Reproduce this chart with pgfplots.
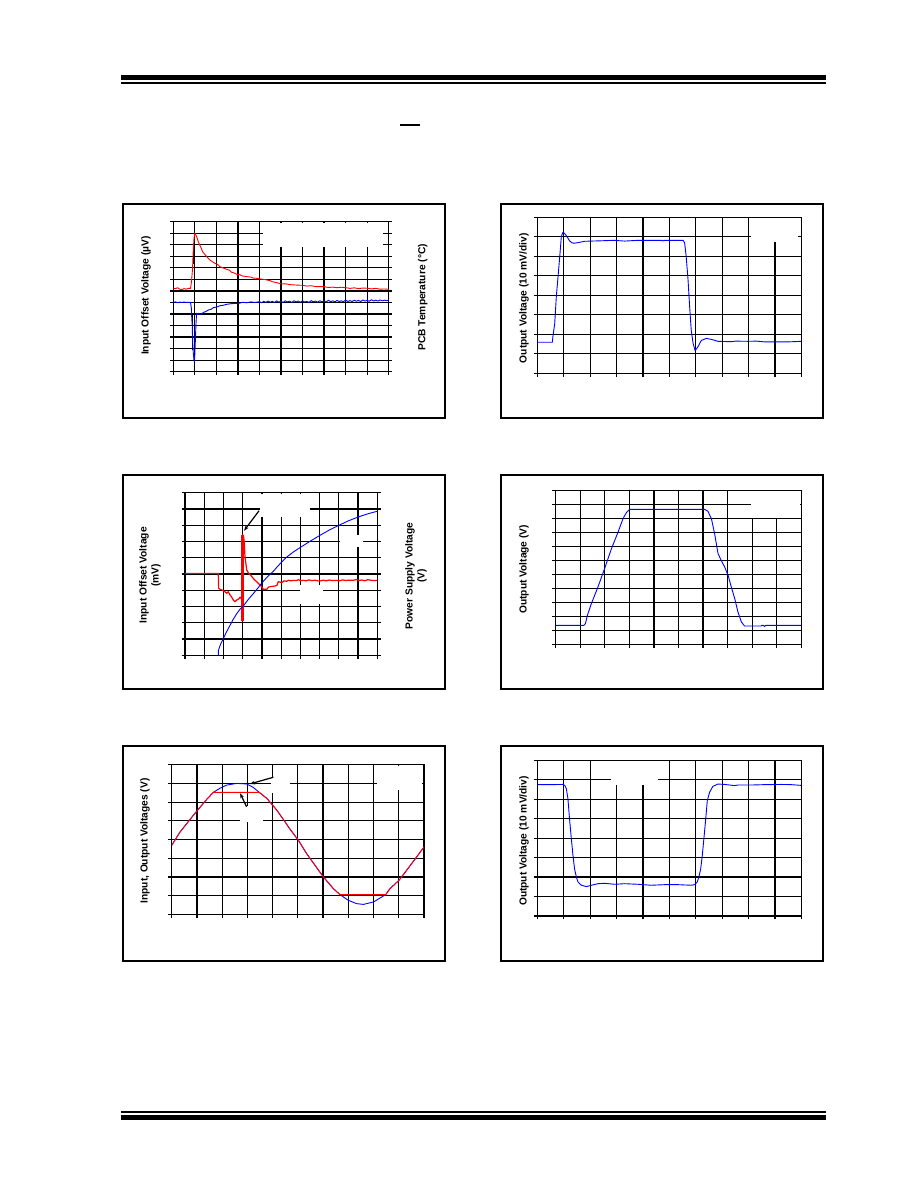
\documentclass[border=0pt]{standalone}
\usepackage{pgfplots}
\pgfplotsset{compat=1.18}
\usepackage{fontspec}
\setmainfont{Liberation Sans}
\usetikzlibrary{arrows.meta}
\pgfplotsset{
  dsgrid/.style={
    scale only axis,
    xmin=0,xmax=10,ymin=0,
    xtick={0,1,...,10},
    xticklabels={},yticklabels={},
    grid=major,
    major grid style={black,line width=1.2pt},
    axis line style={black,line width=1.2pt},
    tick style={black,line width=1.2pt},
    tick align=outside,
    major tick length=3.5pt,
    xtick pos=bottom,
    ytick pos=left,
  },
  tr/.style={line width=0.9pt,line join=round},
}
\newcommand{\lab}{\fontsize{10.2}{12}\selectfont\bfseries}
\tikzset{arr/.style={black,line width=1.2pt,-{Stealth[length=5pt,width=3.6pt]}}}
\begin{document}
\begin{tikzpicture}
\path[use as bounding box,fill=white] (0pt,0pt) rectangle (918pt,-1188pt);
% header / footer rules
\fill[black] (121pt,-75pt) rectangle (826pt,-80pt);
\fill[black] (121pt,-82pt) rectangle (826pt,-84pt);
\fill[black] (400pt,-124pt) rectangle (420pt,-126pt);
\fill[black] (121pt,-1111pt) rectangle (826pt,-1113pt);
\fill[black] (121pt,-1115pt) rectangle (826pt,-1120pt);
% frames
\begin{scope}[line width=2pt]
\draw (123pt,-204pt) rectangle (445pt,-418pt);
\draw (501pt,-204pt) rectangle (823pt,-418pt);
\draw (123pt,-475pt) rectangle (445pt,-689pt);
\draw (501pt,-475pt) rectangle (823pt,-689pt);
\draw (123pt,-746pt) rectangle (445pt,-961pt);
\draw (501pt,-746pt) rectangle (823pt,-961pt);
\end{scope}

% ---------------- Chart 1 ----------------
\begin{axis}[dsgrid, at={(173.3pt,-221.7pt)}, anchor=north west,
  width=215.4pt, height=150pt, ymax=13, ytick={0,1,...,13}, ytick pos=both]
\fill[white] (axis cs:4.18,10.83) rectangle (axis cs:9.75,12.91);
\addplot[black,line width=1pt] coordinates {(0.91,1.9) (0.91,4.9)};
\addplot[black,line width=1pt] coordinates {(0.92,9.3) (0.92,10.7)};
\addplot[red,tr] coordinates {
(0,7.25) (0.1,7.2) (0.2,7.28) (0.3,7.15) (0.4,7.12) (0.5,7.2) (0.6,7.15) (0.7,7.22) (0.8,7.22)
(0.83,7.6) (0.85,7.95) (0.88,8.6) (0.90,9.25) (0.93,10.69) (0.96,11.5) (0.99,11.99) (1.03,11.9)
(1.08,11.71) (1.16,11.27) (1.24,10.92) (1.30,10.7) (1.36,10.40) (1.45,10.2) (1.55,9.97)
(1.70,9.68) (1.80,9.55) (1.93,9.39) (2.05,9.3) (2.17,9.10) (2.3,9.0) (2.48,8.87) (2.6,8.8)
(2.7,8.62) (2.8,8.58) (2.94,8.44) (3.1,8.4) (3.2,8.3) (3.41,8.24) (3.6,8.2) (3.7,8.12)
(3.87,8.09) (4.0,8.05) (4.2,8.0) (4.35,7.95) (4.49,7.89) (4.6,7.8) (4.8,7.72) (5.02,7.6)
(5.2,7.62) (5.4,7.55) (5.6,7.52) (5.8,7.5) (6.01,7.49) (6.2,7.42) (6.4,7.45) (6.6,7.38)
(6.8,7.37) (7.0,7.37) (7.2,7.3) (7.4,7.33) (7.6,7.28) (7.8,7.32) (8.02,7.28) (8.2,7.22)
(8.4,7.27) (8.6,7.2) (8.8,7.25) (9.01,7.23) (9.2,7.18) (9.4,7.22) (9.6,7.15) (9.8,7.17) (10,7.14)};
\addplot[blue,tr] coordinates {
(0,6.01) (0.1,6.05) (0.2,5.98) (0.3,6.03) (0.4,6.0) (0.5,6.04) (0.6,6.0) (0.7,6.02) (0.8,6.0)
(0.84,5.5) (0.85,4.91) (0.88,3.9) (0.9,2.5) (0.93,1.59) (0.96,1.0) (0.98,0.87) (1.0,1.5)
(1.01,2.02) (1.04,3.5) (1.05,4.05) (1.08,5.06) (1.12,4.97) (1.16,5.06) (1.25,5.0) (1.32,4.97)
(1.39,5.14) (1.5,5.2) (1.63,5.35) (1.75,5.4) (1.86,5.55) (2.0,5.6) (2.17,5.72) (2.3,5.75)
(2.48,5.84) (2.7,5.9) (2.94,5.92) (3.1,5.95) (3.2,6.02) (3.41,5.98) (3.6,6.05) (3.8,6.0)
(4.0,6.07) (4.1,5.98) (4.2,6.1) (4.3,6.0) (4.4,6.12) (4.5,6.02) (4.6,6.1) (4.7,6.0) (4.8,6.14)
(4.9,6.03) (5.0,6.1) (5.1,6.0) (5.2,6.14) (5.3,6.04) (5.4,6.12) (5.5,6.0) (5.6,6.15) (5.7,6.05)
(5.8,6.12) (5.9,6.02) (6.0,6.14) (6.1,6.04) (6.2,6.1) (6.3,6.0) (6.4,6.16) (6.5,6.05) (6.6,6.12)
(6.7,6.03) (6.8,6.15) (6.9,6.06) (7.0,6.12) (7.1,6.04) (7.2,6.2) (7.3,6.06) (7.4,6.14) (7.5,6.05)
(7.6,6.18) (7.7,6.08) (7.8,6.14) (7.9,6.06) (8.0,6.22) (8.1,6.08) (8.2,6.16) (8.3,6.08) (8.4,6.2)
(8.5,6.1) (8.6,6.18) (8.7,6.08) (8.8,6.22) (8.9,6.12) (9.0,6.18) (9.1,6.1) (9.2,6.24) (9.3,6.12)
(9.4,6.2) (9.5,6.12) (9.6,6.22) (9.7,6.14) (9.8,6.2) (9.9,6.16) (10,6.21)};
\end{axis}

% ---------------- Chart 2 ----------------
\begin{axis}[dsgrid, at={(537.3pt,-217.3pt)}, anchor=north west,
  width=264pt, height=156pt, ymax=8, ytick={0,1,...,8}]
\fill[white] (axis cs:8.08,6.75) rectangle (axis cs:9.88,7.95);
\addplot[blue,tr] coordinates {
(0,1.59) (0.57,1.59) (0.59,1.88) (0.66,2.56) (0.72,3.93) (0.78,4.87) (0.85,5.98) (0.91,7.01)
(0.97,7.23) (1.03,7.18) (1.10,7.06) (1.22,6.80) (1.30,6.70) (1.39,6.67) (1.54,6.70) (1.79,6.77)
(2.30,6.79) (2.93,6.82) (3.1,6.80) (3.31,6.78) (3.81,6.82) (4.70,6.82) (4.75,6.79) (4.8,6.82)
(5.52,6.82) (5.58,6.70) (5.64,5.98) (5.71,4.79) (5.77,3.42) (5.83,2.22) (5.90,1.54) (5.98,1.16)
(6.09,1.37) (6.21,1.68) (6.40,1.79) (6.59,1.74) (6.84,1.64) (7.35,1.62) (7.5,1.65) (7.98,1.64)
(8.3,1.65) (8.61,1.61) (9.5,1.61) (10,1.64)};
\end{axis}

% ---------------- Chart 3 ----------------
\begin{axis}[dsgrid, at={(185pt,-492.7pt)}, anchor=north west,
  width=192.3pt, height=162.6pt, ymax=10, ytick={0,1,...,10}, ytick pos=both]
\fill[white] (axis cs:3.9,8.5) rectangle (axis cs:6.5,9.94);
\fill[white] (axis cs:8.06,6.66) rectangle (axis cs:9.27,7.38);
\fill[white] (axis cs:5.98,3.18) rectangle (axis cs:7.19,4.3);
\addplot[red,line width=1.2pt,line join=round] coordinates {
(0,5.04) (0.5,5.04) (1.0,5.04) (1.5,5.04) (1.73,5.04) (1.75,4.12) (1.82,4.06) (1.95,4.0)
(2.08,3.91) (2.17,3.81) (2.25,3.91) (2.34,3.71) (2.42,3.6) (2.51,3.40) (2.60,3.30) (2.69,3.40)
(2.78,3.45) (2.86,3.57) (2.92,3.5) (2.95,3.65) (2.97,3.4) (2.98,2.13) (3.0,7.40) (3.04,7.35)
(3.07,7.09) (3.12,6.06) (3.21,5.25) (3.29,5.08) (3.4,4.95) (3.55,4.73) (3.65,4.6) (3.73,4.53)
(3.9,4.32) (4.0,4.2) (4.07,4.06) (4.25,4.06) (4.35,4.2) (4.42,4.22) (4.68,4.26) (4.78,4.3)
(4.85,4.53) (4.95,4.5) (5.03,4.47) (5.15,4.58) (5.29,4.55) (5.4,4.62) (5.5,4.58) (5.63,4.61)
(5.8,4.6) (5.9,4.65) (6.0,4.6) (6.15,4.61) (6.3,4.58) (6.45,4.64) (6.6,4.59) (6.75,4.62)
(6.9,4.58) (7.02,4.57) (7.2,4.62) (7.35,4.58) (7.5,4.63) (7.65,4.6) (7.89,4.61) (8.05,4.58)
(8.2,4.64) (8.35,4.6) (8.5,4.62) (8.75,4.61) (8.9,4.66) (9.05,4.6) (9.2,4.63) (9.35,4.58)
(9.5,4.65) (9.65,4.62) (9.8,4.6) (10,4.61)};
\addplot[red,line width=2.2pt] coordinates {(2.99,2.13) (2.99,7.4)};
\addplot[blue,tr] coordinates {
(1.73,0.0) (1.74,0.3) (1.78,0.45) (1.85,0.68) (1.99,1.02) (2.15,1.42) (2.34,1.84) (2.5,2.2)
(2.69,2.56) (2.85,2.82) (3.03,3.03) (3.3,3.45) (3.55,3.79) (3.8,4.15) (4.04,4.51) (4.3,4.85)
(4.59,5.16) (4.8,5.45) (5.03,5.74) (5.3,6.05) (5.63,6.35) (6.03,6.66) (6.5,7.01) (7.02,7.38)
(7.5,7.7) (8.01,8.0) (8.5,8.27) (9.01,8.51) (9.5,8.7) (10,8.86)};
\draw[arr] (axis cs:3.85,8.89) -- (axis cs:3.07,7.66);
\end{axis}

% ---------------- Chart 4 ----------------
\begin{axis}[dsgrid, at={(555.7pt,-490.3pt)}, anchor=north west,
  width=245.6pt, height=154.4pt, ymax=11, ytick={0,1,...,11}]
\fill[white] (axis cs:7.94,9.03) rectangle (axis cs:9.93,10.93);
\addplot[blue,tr] coordinates {
(0,1.38) (1.15,1.38) (1.21,1.50) (1.29,2.09) (1.45,2.92) (1.72,4.11) (1.99,5.42) (2.27,6.84)
(2.54,8.03) (2.74,8.98) (2.88,9.41) (3.01,9.64) (6.07,9.64) (6.20,9.50) (6.34,8.98) (6.47,7.91)
(6.61,6.48) (6.74,6.01) (6.88,5.53) (7.02,4.94) (7.15,4.11) (7.29,3.28) (7.42,2.33) (7.56,1.62)
(7.69,1.33) (8.37,1.33) (8.4,1.38) (8.45,1.38) (8.5,1.30) (8.55,1.38) (10,1.38)};
\end{axis}

% ---------------- Chart 5 ----------------
\begin{axis}[dsgrid, at={(171.7pt,-764.7pt)}, anchor=north west,
  width=252.3pt, height=149.6pt, ymax=8, ytick={0,1,...,8}]
\fill[white] (axis cs:3.94,6.49) rectangle (axis cs:4.69,7.29);
\fill[white] (axis cs:2.69,4.91) rectangle (axis cs:3.62,5.79);
\fill[white] (axis cs:8.13,6.65) rectangle (axis cs:9.91,7.93);
\addplot[blue,tr] coordinates {
(0,3.69) (0.33,4.40) (0.70,5.03) (1.02,5.56) (1.39,6.15) (1.65,6.52) (1.91,6.74) (2.18,6.91)
(2.58,7.00) (2.97,6.97) (3.23,6.79) (3.47,6.52) (3.77,6.20) (4.16,5.58) (4.49,4.95) (4.69,4.55)
(5.02,3.96) (5.35,3.24) (5.68,2.62) (6.01,2.00) (6.41,1.37) (6.67,1.05) (7.00,0.75) (7.33,0.57)
(7.60,0.53) (8.00,0.66) (8.39,0.98) (8.48,1.05) (8.65,1.37) (9.01,1.82) (9.31,2.35) (9.71,3.07)
(10,3.60)};
\addplot[red,tr] coordinates {
(0,3.69) (0.33,4.40) (0.70,5.03) (1.02,5.56) (1.39,6.15) (1.65,6.52) (3.47,6.52) (3.77,6.20)
(4.16,5.58) (4.49,4.95) (4.69,4.55) (5.02,3.96) (5.35,3.24) (5.68,2.62) (6.01,2.00) (6.41,1.37)
(6.67,1.05) (8.48,1.05) (8.65,1.37) (9.01,1.82) (9.31,2.35) (9.71,3.07) (10,3.60)};
\draw[arr] (axis cs:4.03,7.33) -- (axis cs:3.10,6.97);
\draw[arr] (axis cs:2.97,5.75) -- (axis cs:2.71,6.47);
\end{axis}

% ---------------- Chart 6 ----------------
\begin{axis}[dsgrid, at={(537.3pt,-760.3pt)}, anchor=north west,
  width=264pt, height=155.7pt, ymax=8, ytick={0,1,...,8}]
\fill[white] (axis cs:2.80,6.75) rectangle (axis cs:4.57,7.95);
\addplot[blue,tr] coordinates {
(0,6.75) (0.53,6.75) (0.97,6.76) (1.04,6.71) (1.10,6.54) (1.16,6.03) (1.22,5.00) (1.29,3.97)
(1.35,3.12) (1.41,2.43) (1.48,2.00) (1.54,1.75) (1.67,1.58) (1.86,1.51) (2.05,1.58) (2.30,1.66)
(2.55,1.68) (2.93,1.63) (3.31,1.66) (3.81,1.63) (4.32,1.58) (4.82,1.61) (5.33,1.61) (5.83,1.58)
(5.96,1.61) (6.06,1.75) (6.12,2.00) (6.19,2.43) (6.25,3.12) (6.31,3.97) (6.38,5.00) (6.44,5.94)
(6.53,6.37) (6.65,6.66) (6.84,6.78) (7.10,6.76) (7.47,6.70) (7.60,6.73) (8.11,6.73) (8.61,6.75)
(9.24,6.76) (9.62,6.75) (10,6.71)};
\end{axis}

% axis titles
\node[rotate=90,font=\lab] at (146pt,-295.7pt) {Input Offset Voltage (µV)};
\node[rotate=90,font=\lab] at (422.7pt,-297.3pt) {PCB Temperature (°C)};
\node[rotate=90,font=\lab] at (524pt,-298.3pt) {Output Voltage (10 mV/div)};
\node[rotate=90,font=\lab,align=center] at (150pt,-575.3pt) {Input Offset Voltage\\(mV)};
\node[rotate=90,font=\lab,align=center] at (416pt,-576pt) {Power Supply Voltage\\(V)};
\node[rotate=90,font=\lab] at (524pt,-569.3pt) {Output Voltage (V)};
\node[rotate=90,font=\lab] at (145pt,-841pt) {Input, Output Voltages (V)};
\node[rotate=90,font=\lab] at (524pt,-841pt) {Output Voltage (10 mV/div)};
\end{tikzpicture}
\end{document}
